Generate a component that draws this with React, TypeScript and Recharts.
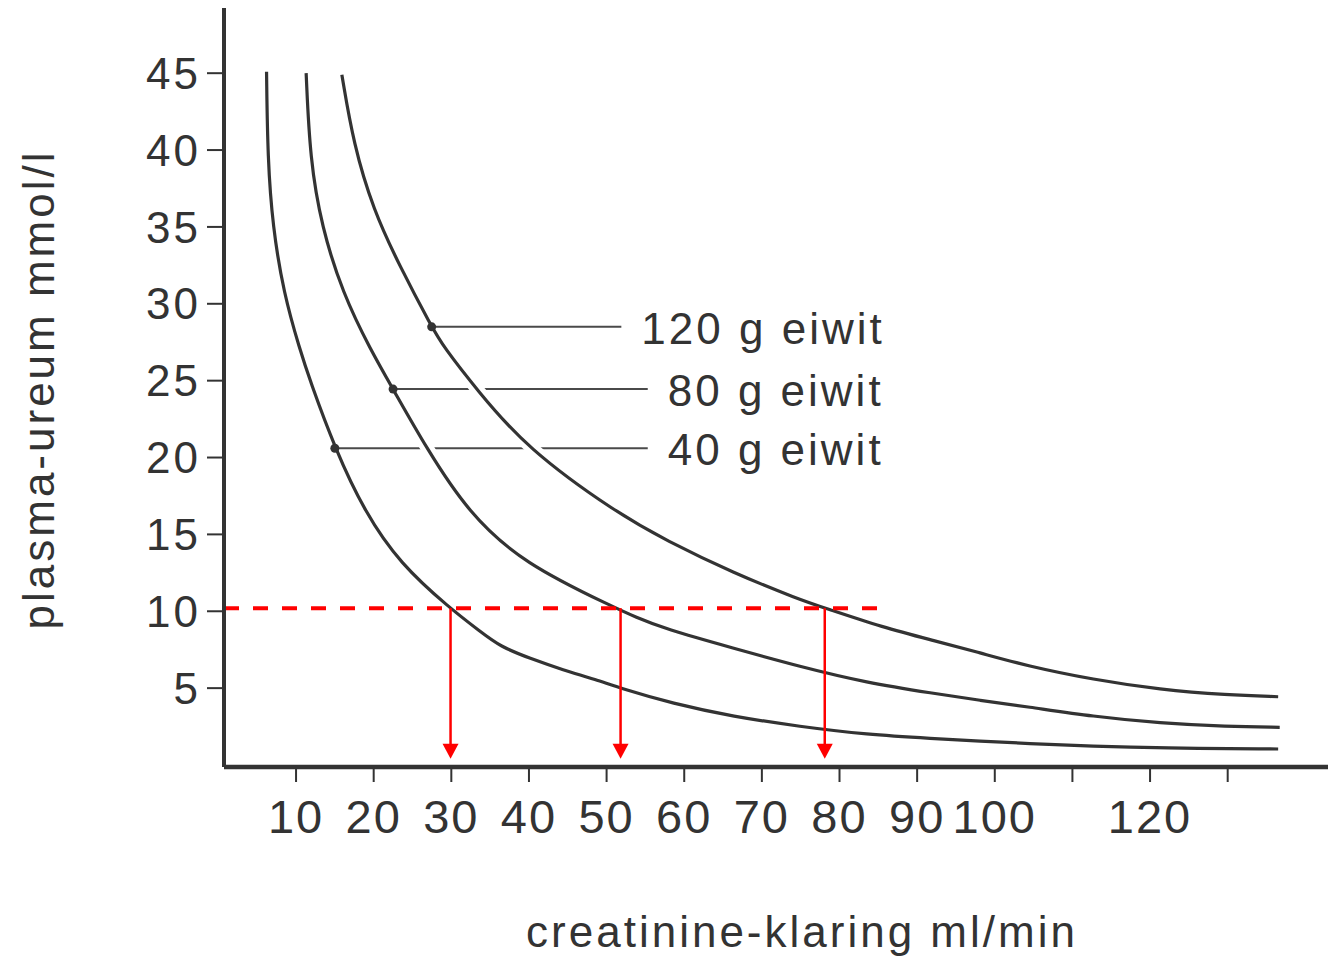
import React from 'react';
import { LineChart, Line, XAxis, YAxis, ReferenceDot } from 'recharts';

const FONT = '"Liberation Sans", Arial, Helvetica, sans-serif';
const INK = '#333333';
const RED = '#ff0000';

// curves: creatinine clearance (ml/min) -> plasma urea (mmol/l)
const clearance40 = [6.2, 6.35, 7.0, 8.4, 10.5, 11.8, 15.0, 18.9, 23.4, 29.8, 33.7, 36.3, 40.1, 44.4, 48.7, 51.7, 58.5, 66.3, 74.9, 83.5, 92.1, 98.1, 104.1, 112.7, 121.3, 136.5];
const urea40 = [45.1, 39.4, 35.0, 30.7, 27.0, 25.0, 20.6, 16.4, 13.1, 10.2, 8.7, 7.7, 6.94, 6.18, 5.55, 5.0, 4.0, 3.15, 2.5, 1.98, 1.72, 1.55, 1.4, 1.22, 1.1, 1.04];

const clearance80 = [11.3, 11.8, 13.3, 16.0, 19.6, 22.5, 26.8, 32.2, 39.3, 51.2, 53.6, 57.5, 66.3, 74.9, 83.5, 92.1, 98.1, 104.1, 112.7, 121.3, 129.9, 136.7];
const urea80 = [45.0, 39.4, 35.0, 30.7, 27.0, 24.45, 20.6, 16.4, 13.1, 10.2, 9.65, 8.85, 7.6, 6.4, 5.35, 4.66, 4.2, 3.8, 3.15, 2.72, 2.5, 2.45];

const clearance120 = [15.9, 17.4, 19.95, 23.4, 27.47, 29.0, 33.3, 39.7, 51.3, 57.7, 66.3, 74.9, 78.2, 85.6, 92.1, 98.1, 104.1, 112.7, 121.3, 129.9, 136.5];
const urea120 = [44.9, 40.4, 36.1, 32.4, 28.5, 27.2, 24.4, 20.6, 16.4, 14.6, 12.5, 10.75, 10.2, 8.95, 8.1, 7.3, 6.45, 5.55, 4.9, 4.55, 4.44];

// leader lines with their labels (40, 80, 120 g protein)
const leaderLabels = ['40 g eiwit', '80 g eiwit', '120 g eiwit'];
const leaderUrea = [20.6, 24.45, 28.5];
const leaderStart = [15.0, 22.5, 27.47];
const leaderEnd = [55.3, 55.3, 51.9];

// red reading lines
const targetUrea = 10.2;
const dashStart = 0.72;
const dashEnd = 85.9;
const arrowClearance = [29.9, 51.8, 78.1];
const arrowBaseUrea = 1.35;
const arrowTipUrea = 0.4;

const xTicks = [10, 20, 30, 40, 50, 60, 70, 80, 90, 100, 110, 120, 130];
const xTickLabels = ['10', '20', '30', '40', '50', '60', '70', '80', '90', '100', '', '120', ''];
const yTicks = [5, 10, 15, 20, 25, 30, 35, 40, 45];

const toPoints = (xs: number[], ys: number[]) => xs.map((x, i) => ({ x, y: ys[i] }));

const curves = [
  toPoints(clearance40, urea40),
  toPoints(clearance80, urea80),
  toPoints(clearance120, urea120),
];

const leaders = leaderUrea.map((y, i) => [
  { x: leaderStart[i], y },
  { x: leaderEnd[i], y },
]);

const dashData = [
  { x: dashStart, y: targetUrea },
  { x: dashEnd, y: targetUrea },
];

const arrows = arrowClearance.map((x) => [
  { x, y: targetUrea },
  { x, y: arrowBaseUrea },
]);

const textStyle = {
  fill: INK,
  fontSize: 44,
  fontFamily: FONT,
  letterSpacing: 3,
};

const sideLabel = (text: string) => (props: any) => {
  const vb = props.viewBox || {};
  return (
    <text x={vb.x + (vb.width || 0) + 20} y={vb.y + (vb.height || 0) / 2 + 17} {...textStyle}>
      {text}
    </text>
  );
};

const xTitle = (props: any) => {
  const vb = props.viewBox || {};
  return (
    <text x={vb.x + vb.width / 2 + 26} y={vb.y + 180} textAnchor="middle" {...textStyle}>
      creatinine-klaring ml/min
    </text>
  );
};

const yTitle = (props: any) => {
  const vb = props.viewBox || {};
  const cx = vb.x + 54;
  const cy = vb.y + vb.height / 2 + 2;
  return (
    <text x={cx} y={cy} transform={`rotate(-90, ${cx}, ${cy})`} textAnchor="middle" {...textStyle}>
      plasma-ureum mmol/l
    </text>
  );
};

const arrowHead = (props: any) => {
  const { cx, cy } = props;
  return <polygon points={`${cx},${cy} ${cx - 8},${cy - 15} ${cx + 8},${cy - 15}`} fill={RED} />;
};

export default function App() {
  const series: React.ReactNode[] = [];
  curves.forEach((data, i) => {
    series.push(
      <Line
        key={`halo-${i}`}
        data={data}
        dataKey="y"
        type="basis"
        stroke="#ffffff"
        strokeWidth={13}
        dot={false}
        activeDot={false}
        isAnimationActive={false}
      />,
      <Line
        key={`curve-${i}`}
        data={data}
        dataKey="y"
        type="basis"
        stroke={INK}
        strokeWidth={3.2}
        dot={false}
        activeDot={false}
        isAnimationActive={false}
      />,
      <Line
        key={`leader-${i}`}
        data={leaders[i]}
        dataKey="y"
        type="linear"
        stroke="#4a4a4a"
        strokeWidth={2}
        dot={false}
        activeDot={false}
        isAnimationActive={false}
      />
    );
  });

  return (
    <div style={{ position: 'absolute', left: 0, top: 0, width: 1328, height: 963, background: '#fff' }}>
      <LineChart width={1328} height={963} margin={{ top: 8, right: 0, bottom: 0, left: 0 }}>
        <XAxis
          dataKey="x"
          type="number"
          domain={[0.72, 142.92]}
          allowDataOverflow
          ticks={xTicks}
          interval={0}
          tickFormatter={(v: number) => xTickLabels[xTicks.indexOf(v)] ?? ''}
          height={196}
          tickSize={15}
          tickMargin={18}
          axisLine={{ stroke: INK, strokeWidth: 4.5 }}
          tickLine={{ stroke: INK, strokeWidth: 2 }}
          tick={{ fill: INK, fontSize: 47, fontFamily: FONT, letterSpacing: 2 }}
          label={xTitle}
        />
        <YAxis
          type="number"
          domain={[-0.13, 49.24]}
          allowDataOverflow
          ticks={yTicks}
          interval={0}
          width={224}
          tickSize={17}
          tickMargin={6}
          axisLine={{ stroke: INK, strokeWidth: 4 }}
          tickLine={{ stroke: INK, strokeWidth: 2 }}
          tick={{ fill: INK, fontSize: 44, fontFamily: FONT, letterSpacing: 3 }}
          label={yTitle}
        />
        {series}
        <Line
          data={dashData}
          dataKey="y"
          type="linear"
          stroke={RED}
          strokeWidth={4}
          strokeDasharray="15 14"
          dot={false}
          activeDot={false}
          isAnimationActive={false}
        />
        {arrows.map((data, i) => (
          <Line
            key={`arrow-${i}`}
            data={data}
            dataKey="y"
            type="linear"
            stroke={RED}
            strokeWidth={2.5}
            dot={false}
            activeDot={false}
            isAnimationActive={false}
          />
        ))}
        {arrowClearance.map((x, i) => (
          <ReferenceDot key={`head-${i}`} x={x} y={arrowTipUrea} r={8} shape={arrowHead} />
        ))}
        {leaderUrea.map((y, i) => (
          <ReferenceDot key={`dot-${i}`} x={leaderStart[i]} y={y} r={4.5} fill={INK} stroke="none" />
        ))}
        {leaderUrea.map((y, i) => (
          <ReferenceDot
            key={`label-${i}`}
            x={leaderEnd[i]}
            y={y}
            r={0}
            fill="none"
            stroke="none"
            label={sideLabel(leaderLabels[i])}
          />
        ))}
      </LineChart>
    </div>
  );
}
